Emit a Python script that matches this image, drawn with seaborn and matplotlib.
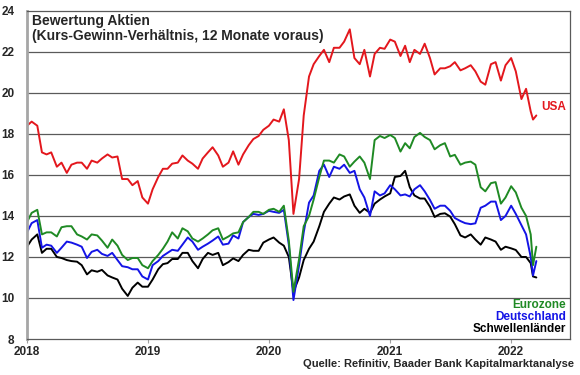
import matplotlib

matplotlib.use("Agg")
import matplotlib.dates as mdates
import matplotlib.pyplot as plt
import numpy as np
import pandas as pd
import seaborn as sns

# semi-monthly readings, Jan 2018 .. Mar 2022, plus two March 2022 weeks
dates = list(pd.date_range("2018-01-01", "2022-03-01", freq="SMS")) + [
    pd.Timestamp("2022-03-08"), pd.Timestamp("2022-03-18")]

usa = [18.4, 18.6, 18.4, 17.1, 17.0, 17.1, 16.4, 16.6, 16.1, 16.5, 16.6, 16.6,
       16.3, 16.7, 16.6, 16.8, 17.0, 16.85, 16.9, 15.8, 15.8, 15.5, 15.7, 14.9,
       14.6, 15.3, 15.9, 16.3, 16.3, 16.55, 16.6, 16.95, 16.7, 16.55, 16.3, 16.8,
       17.1, 17.35, 16.95, 16.4, 16.6, 17.15, 16.5, 17.0, 17.45, 17.75, 17.9, 18.2,
       18.4, 18.7, 18.6, 19.2, 17.7, 14.1, 15.8, 18.9, 20.8, 21.4, 21.8, 22.1,
       21.5, 22.2, 22.2, 22.5, 23.1, 21.7, 21.4, 22.1, 20.8, 21.9, 22.2, 22.15,
       22.6, 22.5, 21.8, 22.3, 21.5, 22.1, 21.9, 22.4, 21.7, 20.9, 21.2, 21.2,
       21.3, 21.5, 21.1, 21.2, 21.35, 21.05, 20.55, 20.4, 21.4, 21.5, 20.6, 21.35,
       21.7, 21.05, 19.7, 20.2, 19.1, 18.7, 18.9]

eurozone = [13.7, 14.15, 14.3, 13.1, 13.2, 13.2, 13.0, 13.45, 13.5, 13.5, 13.1, 13.0,
            12.85, 13.1, 13.05, 12.8, 12.45, 12.85, 12.55, 12.1, 11.85, 11.95, 11.95, 11.6,
            11.45, 11.8, 12.1, 12.4, 12.75, 13.2, 12.9, 13.4, 13.25, 12.9, 12.75, 12.9,
            13.1, 13.3, 13.4, 12.85, 13.0, 13.15, 13.2, 13.7, 13.95, 14.2, 14.2, 14.1,
            14.3, 14.35, 14.2, 14.5, 12.8, 10.3, 11.9, 13.5, 14.0, 14.8, 15.9, 16.7,
            16.7, 16.6, 17.0, 16.9, 16.4, 16.65, 16.9, 16.6, 15.8, 17.7, 17.9, 17.8,
            17.95, 17.8, 17.14, 17.55, 17.3, 17.85, 18.05, 17.85, 17.7, 17.25, 17.45, 17.55,
            16.9, 16.98, 16.5, 16.6, 16.65, 16.5, 15.4, 15.2, 15.6, 15.65, 14.6, 14.9,
            15.45, 15.15, 14.4, 14.0, 13.1, 11.6, 12.5]

deutschland = [13.2, 13.65, 13.8, 12.45, 12.6, 12.55, 12.2, 12.45, 12.75, 12.7, 12.6, 12.5,
               11.95, 12.25, 12.35, 12.15, 12.05, 12.2, 11.85, 11.55, 11.5, 11.4, 11.4, 11.05,
               10.9, 11.6, 11.8, 12.05, 12.2, 12.35, 12.3, 12.6, 12.95, 12.75, 12.35, 12.5,
               12.65, 12.8, 13.0, 12.6, 12.65, 13.05, 12.9, 13.7, 13.95, 14.1, 14.05, 14.1,
               14.25, 14.2, 14.15, 14.3, 12.6, 9.9, 11.6, 13.2, 14.65, 15.0, 16.2, 16.5,
               15.9, 16.4, 16.3, 16.5, 16.1, 16.2, 15.3, 14.9, 14.0, 15.2, 15.0, 15.1,
               15.5, 15.3, 15.0, 15.05, 14.95, 15.3, 15.5, 15.2, 14.78, 14.35, 14.5, 14.5,
               14.25, 13.9, 13.75, 13.65, 13.6, 13.64, 14.4, 14.5, 14.7, 14.7, 13.8, 14.0,
               14.5, 14.1, 13.55, 13.1, 12.0, 11.1, 11.8]

schwellenlaender = [12.5, 12.85, 13.1, 12.2, 12.4, 12.4, 12.0, 11.95, 11.85, 11.8, 11.77, 11.6,
                    11.15, 11.35, 11.28, 11.37, 11.1, 11.0, 10.9, 10.45, 10.1, 10.5, 10.75, 10.55,
                    10.55, 10.9, 11.4, 11.65, 11.7, 11.9, 11.9, 12.2, 12.2, 11.8, 11.45, 11.9,
                    12.2, 12.1, 12.2, 11.6, 11.75, 11.93, 11.8, 12.1, 12.35, 12.3, 12.3, 12.7,
                    12.85, 12.95, 12.7, 12.55, 12.0, 10.3, 11.0, 11.85, 12.4, 12.75, 13.5, 14.2,
                    14.6, 14.9, 14.8, 14.95, 15.05, 14.5, 14.15, 14.35, 14.15, 14.6, 14.8, 14.95,
                    15.1, 15.9, 15.95, 16.2, 15.4, 15.0, 14.85, 14.85, 14.45, 13.95, 14.1, 14.13,
                    13.97, 13.6, 13.05, 12.95, 13.1, 12.85, 12.6, 12.95, 12.85, 12.75, 12.35, 12.5,
                    12.42, 12.34, 12.0, 12.0, 11.7, 11.05, 11.0]

series_names = ["USA", "Eurozone", "Deutschland", "Schwellenländer"]
colors = {"USA": "#e3171d", "Eurozone": "#1f8a24", "Deutschland": "#1414e6",
          "Schwellenländer": "#000000"}
y_ticks = [8, 10, 12, 14, 16, 18, 20, 22, 24]
year_ticks = ["2018", "2019", "2020", "2021", "2022"]

df = pd.DataFrame({
    "Datum": dates * 4,
    "KGV": usa + eurozone + deutschland + schwellenlaender,
    "Region": np.repeat(series_names, len(dates)),
})

sns.set_style("white")
plt.rcParams["font.family"] = ["Liberation Sans", "DejaVu Sans"]
plt.rcParams["font.weight"] = "bold"

fig = plt.figure(figsize=(5.8, 3.75), dpi=100)
ax = fig.add_axes([0.0466, 0.096, 0.9364, 0.875])

sns.lineplot(data=df, x="Datum", y="KGV", hue="Region", hue_order=series_names[::-1],
             palette=colors, linewidth=1.4, legend=False, ax=ax)

ax.set_xlim(pd.Timestamp("2018-01-01"), pd.Timestamp("2022-06-28"))
ax.set_ylim(8, 24)
ax.set_yticks(y_ticks)
ax.set_xticks([pd.Timestamp(f"{y}-01-01") for y in year_ticks])
ax.xaxis.set_major_formatter(mdates.DateFormatter("%Y"))
for y in y_ticks[1:-1]:
    ax.axhline(y, color="#5a5a5a", lw=0.9, zorder=0)
ax.set_xlabel("")
ax.set_ylabel("")
ax.tick_params(axis="y", length=0, pad=9, labelsize=8.5)
ax.tick_params(axis="x", length=3, color="#a0a0a0", direction="out", pad=2, labelsize=8.5)
ax.tick_params(bottom=True)
for side in ["top", "right", "bottom"]:
    ax.spines[side].set_color("#5a5a5a")
    ax.spines[side].set_linewidth(0.9)
ax.spines["left"].set_color("#a6a6a6")
ax.spines["left"].set_linewidth(2)

ax.text(0.009, 0.99, "Bewertung Aktien\n(Kurs-Gewinn-Verhältnis, 12 Monate voraus)",
        transform=ax.transAxes, ha="left", va="top", fontsize=10, fontweight="bold",
        linespacing=1.1)
ax.text(0.993, 0.707, "USA", transform=ax.transAxes, ha="right", va="center",
        fontsize=8.5, fontweight="bold", color=colors["USA"])
for i, name in enumerate(series_names[1:]):
    ax.text(0.993, 0.104 - i * 0.037, name, transform=ax.transAxes, ha="right",
            va="center", fontsize=8.5, fontweight="bold", color=colors[name])
fig.text(0.99, 0.015, "Quelle: Refinitiv, Baader Bank Kapitalmarktanalyse",
         ha="right", va="bottom", fontsize=8, fontweight="bold")

fig.savefig("out.png", dpi=100)
